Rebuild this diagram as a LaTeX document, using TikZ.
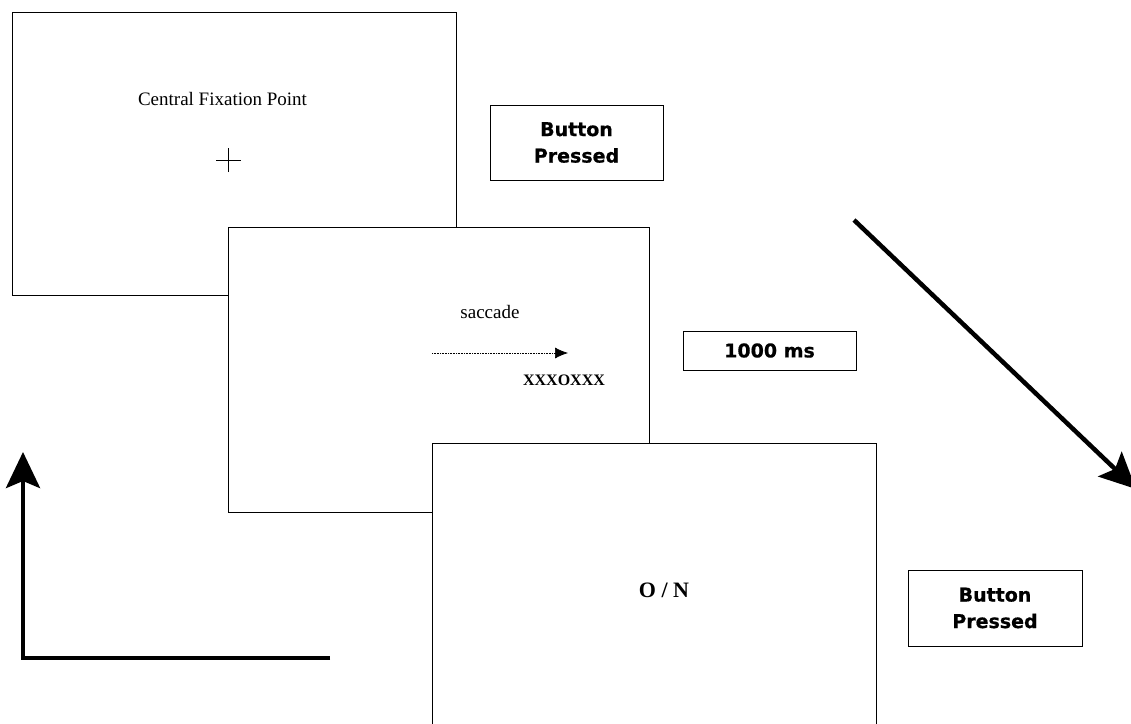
\documentclass[tikz,border=0pt]{standalone}
\usepackage{fontspec}
\setmainfont{Liberation Serif}
\newfontfamily\btnfont{DejaVu Sans}[BoldFeatures={FakeBold=0.6}]
\usetikzlibrary{arrows.meta}
\tikzset{
  screen/.style={draw, fill=white, line width=0.9pt, inner sep=0pt},
  btnbox/.style={draw, line width=0.9pt, inner sep=0pt, align=center,
    font=\btnfont\bfseries\fontsize{19}{26.5}\selectfont},
  serifl/.style={font=\fontsize{19}{22}\selectfont, anchor=base, inner sep=0pt},
  thickarrow/.style={line width=4.5pt, -{Stealth[length=36pt, width=34pt, inset=7pt]}},
}
\begin{document}
\begin{tikzpicture}[x=1pt, y=-1pt]
\useasboundingbox (0,0) rectangle (1131,723);
\clip (0,0) rectangle (1131,723);
\fill[white] (0,0) rectangle (1131,723);

% Screen 1
\node[screen, minimum width=444pt, minimum height=283pt] (s1) at (234,153.5) {};
\node[serifl] (cfp) at (222.5,105) {Central Fixation Point};
\coordinate (fx) at (228.5,160);
\draw[line width=0.8pt] ([xshift=-12.5pt]fx) -- ([xshift=12.5pt]fx);
\draw[line width=0.8pt] ([yshift=-12pt]fx) -- ([yshift=12pt]fx);

% Screen 2
\node[screen, minimum width=421pt, minimum height=285pt] (s2) at (438.5,370) {};
\node[serifl] (sac) at (490,318) {saccade};
\coordinate (da) at (432,353);
\coordinate (db) at (568,353);
\draw[line width=0.7pt, dash pattern=on 0.8pt off 0.8pt, -{Latex[length=13pt, width=11pt]}] (da) -- (db);
\node[serifl, font=\bfseries\fontsize{16}{18}\selectfont] (xo) at (564,385) {XXXOXXX};

% Screen 3
\node[screen, minimum width=444pt, minimum height=300pt] (s3) at (654,593) {};
\node[serifl, font=\bfseries\fontsize{22}{24}\selectfont] (on) at (664,597) {O / N};

% Labels
\node[btnbox, minimum width=173pt, minimum height=75pt] (bp1) at (576.5,142.5) {Button\\Pressed};
\node[btnbox, minimum width=173pt, minimum height=39pt] (ms) at (769.5,350.5) {1000 ms};
\node[btnbox, minimum width=174pt, minimum height=76pt] (bp2) at (995,608) {Button\\Pressed};

% Thick arrows
\coordinate (h1) at (330,658);
\coordinate (h0) at (23,658);
\coordinate (ht) at (23,452);
\draw[thickarrow, line join=miter] (h1) -- (h0) -- (ht);

\coordinate (d0) at (854,220);
\coordinate (d1) at (1136,489);
\draw[thickarrow] (d0) -- (d1);
\end{tikzpicture}
\end{document}
